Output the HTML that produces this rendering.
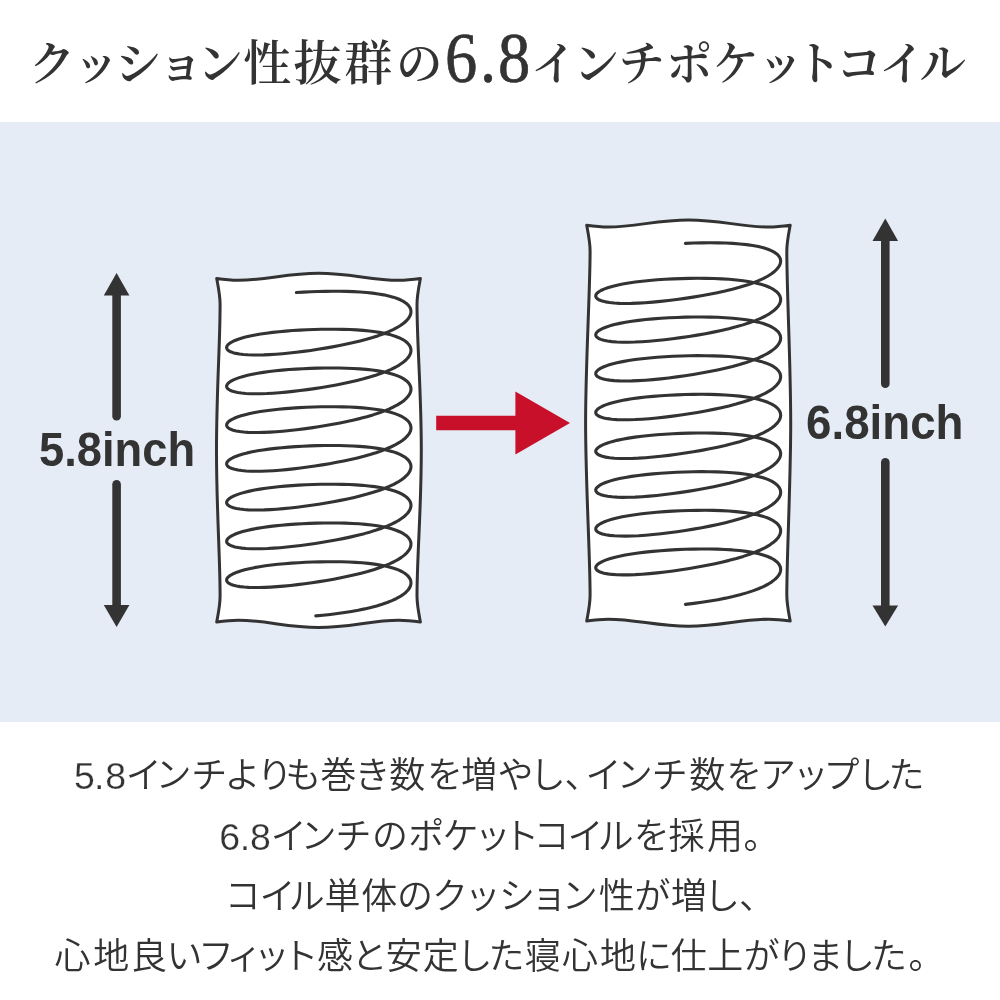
<!DOCTYPE html>
<html lang="ja">
<head>
<meta charset="utf-8">
<title>クッション性抜群の6.8インチポケットコイル</title>
<style>
html,body{margin:0;padding:0;background:#fff;}
body{width:1000px;height:1000px;overflow:hidden;position:relative;color:#333;}
.page{will-change:transform;position:absolute;left:0;top:0;width:1000px;height:1000px;overflow:hidden;background:#fff;}
.band{position:absolute;left:0;top:122px;width:1000px;height:600px;background:#e5ecf6;}
.art{position:absolute;left:0;top:0;display:block;}
h1{position:absolute;left:0;top:0;width:1000px;height:122px;margin:0;font-family:"Liberation Serif","Noto Serif CJK JP","Noto Serif CJK SC",serif;font-weight:600;font-size:46.5px;line-height:122px;white-space:nowrap;color:#333;}
h1 span{position:relative;top:-5.50px;}
h1 .j{font-size:48px;top:-5.50px;}
h1 .n{display:inline-block;font-size:71.5px;font-weight:400;-webkit-text-stroke:0.7px #333;top:-3.50px;transform:scaleX(0.9);transform-origin:0 50%;}
.lbl{position:absolute;margin:0;font-family:"Liberation Sans",sans-serif;font-weight:700;font-size:49px;line-height:49px;height:49px;white-space:nowrap;color:#333;transform-origin:0 50%;transform:scaleX(0.925);}
.desc{position:absolute;left:0;top:722px;width:1000px;height:278px;margin:0;font-family:"Liberation Sans","Noto Sans CJK JP",sans-serif;font-weight:350;font-size:36px;color:#333;font-feature-settings:"palt";}
.desc p{margin:0;position:absolute;left:0;width:1000px;height:40px;line-height:40px;white-space:nowrap;}
.desc span{position:relative;top:0.00px;}
.desc .d{font-size:37.5px;font-weight:400;font-feature-settings:normal;top:-0.40px;-webkit-text-stroke:0.25px #fff;}
</style>
</head>
<body>
<div class="page">
<h1 style="left:25px;letter-spacing:-0.93px" aria-label="クッション性抜群の6.8インチポケットコイル"><span style="left:4.1px">ク</span><span style="left:2.3px">ッ</span><span style="left:-1.4px">シ</span><span style="left:-3.6px">ョ</span><span style="left:-9.6px">ン</span><span class="j" style="left:-8.8px">性</span><span class="j" style="left:-5.6px">抜</span><span class="j" style="left:-1.9px">群</span><span style="left:2.7px">の</span><span class="n" style="left:6.1px">6</span><span class="n" style="left:6.0px">.</span><span class="n" style="left:7.0px">8</span><span style="left:5.4px">イ</span><span style="left:2.0px">ン</span><span style="left:2.0px">チ</span><span style="left:3.9px">ポ</span><span style="left:4.9px">ケ</span><span style="left:6.2px">ッ</span><span style="left:-1.6px">ト</span><span style="left:-4.3px">コ</span><span style="left:-5.4px">イ</span><span style="left:-10.6px">ル</span></h1>
<div class="band">
<svg class="art" width="1000" height="600" viewBox="0 122 1000 600">
<path d="M216.70 278.50C224.22 279.58 231.75 280.30 238.20 280.30C266.20 280.30 286.55 273.20 318.55 273.20C350.55 273.20 370.90 280.30 398.90 280.30C405.35 280.30 412.88 279.58 420.40 278.50C418.70 287.60 417.00 295.40 417.00 304.50C417.00 344.50 421.30 390.30 421.30 450.30C421.30 510.30 417.00 556.10 417.00 596.10C417.00 605.20 418.70 613.00 420.40 622.10C412.88 621.02 405.35 620.30 398.90 620.30C370.90 620.30 350.55 627.40 318.55 627.40C286.55 627.40 266.20 620.30 238.20 620.30C231.75 620.30 224.22 621.02 216.70 622.10C218.40 613.00 220.10 605.20 220.10 596.10C220.10 556.10 216.50 510.30 216.50 450.30C216.50 390.30 220.10 344.50 220.10 304.50C220.10 295.40 218.40 287.60 216.70 278.50Z" fill="#fff" stroke="#333" stroke-width="3.0" stroke-linejoin="round"/>
<path d="M296.33 292.57 L303.46 292.13 L310.68 291.77 L317.95 291.50 L325.23 291.33 L332.47 291.25 L339.62 291.27 L346.65 291.40 L353.50 291.64 L360.13 292.01 L366.51 292.51 L372.59 293.14 L378.33 293.92 L383.70 294.85 L388.67 295.92 L393.20 297.14 L397.26 298.52 L400.84 300.03 L403.90 301.69 L406.44 303.47 L408.42 305.36 L409.85 307.36 L410.71 309.45 L411.00 311.60 L410.71 313.85 L409.85 316.14 L408.42 318.44 L406.43 320.74 L403.90 323.02 L400.83 325.27 L397.25 327.47 L393.18 329.62 L388.65 331.70 L383.68 333.71 L378.31 335.65 L372.57 337.50 L366.49 339.27 L360.11 340.96 L353.48 342.57 L346.63 344.09 L339.60 345.53 L332.45 346.88 L325.21 348.15 L317.93 349.32 L310.66 350.41 L303.43 351.40 L296.31 352.28 L289.32 353.05 L282.52 353.71 L275.94 354.24 L269.63 354.65 L263.63 354.91 L257.97 355.03 L252.69 355.00 L247.83 354.82 L243.40 354.49 L239.45 354.02 L235.99 353.40 L233.05 352.65 L230.64 351.77 L228.79 350.78 L227.49 349.69 L226.77 348.51 L226.62 347.28 L227.04 345.99 L228.04 344.68 L229.60 343.35 L231.72 342.03 L234.38 340.73 L237.57 339.46 L241.26 338.25 L245.44 337.09 L250.08 336.00 L255.15 334.98 L260.61 334.04 L266.44 333.18 L272.59 332.40 L279.03 331.70 L285.72 331.09 L292.61 330.56 L299.67 330.12 L306.85 329.76 L314.10 329.49 L321.38 329.31 L328.65 329.22 L335.85 329.23 L342.95 329.35 L349.90 329.57 L356.65 329.92 L363.17 330.39 L369.41 331.00 L375.34 331.74 L380.91 332.63 L386.09 333.67 L390.86 334.86 L395.17 336.19 L399.01 337.68 L402.35 339.30 L405.16 341.06 L407.44 342.94 L409.17 344.93 L410.33 347.02 L410.92 349.18 L410.94 351.41 L410.38 353.68 L409.25 355.97 L407.55 358.27 L405.30 360.56 L402.52 362.83 L399.21 365.06 L395.39 367.24 L391.10 369.36 L386.36 371.41 L381.20 373.38 L375.65 375.28 L369.74 377.09 L363.52 378.83 L357.02 380.48 L350.27 382.04 L343.34 383.53 L336.25 384.92 L329.05 386.24 L321.78 387.46 L314.50 388.60 L307.24 389.64 L300.06 390.58 L293.00 391.41 L286.09 392.13 L279.39 392.73 L272.93 393.20 L266.76 393.54 L260.92 393.73 L255.44 393.78 L250.35 393.69 L245.69 393.44 L241.48 393.04 L237.76 392.49 L234.54 391.81 L231.85 391.00 L229.70 390.06 L228.11 389.02 L227.08 387.89 L226.62 386.69 L226.74 385.43 L227.44 384.12 L228.70 382.80 L230.53 381.48 L232.91 380.16 L235.82 378.88 L239.25 377.63 L243.18 376.44 L247.57 375.32 L252.42 374.26 L257.67 373.27 L263.31 372.37 L269.30 371.55 L275.59 370.81 L282.15 370.15 L288.94 369.58 L295.92 369.09 L303.04 368.69 L310.26 368.37 L317.53 368.14 L324.81 368.01 L332.06 367.96 L339.22 368.02 L346.25 368.19 L353.11 368.47 L359.76 368.88 L366.15 369.41 L372.24 370.08 L378.01 370.89 L383.40 371.85 L388.39 372.96 L392.95 374.22 L397.04 375.63 L400.65 377.18 L403.74 378.87 L406.31 380.68 L408.33 382.62 L409.79 384.66 L410.68 386.78 L411.00 388.98 L410.74 391.22 L409.91 393.51 L408.52 395.80 L406.56 398.10 L404.06 400.39 L401.02 402.64 L397.47 404.84 L393.43 406.99 L388.92 409.08 L383.98 411.10 L378.63 413.04 L372.91 414.89 L366.85 416.67 L360.49 418.37 L353.87 419.98 L347.03 421.50 L340.01 422.95 L332.86 424.30 L325.63 425.58 L318.35 426.76 L311.08 427.85 L303.85 428.84 L296.71 429.73 L289.72 430.51 L282.90 431.18 L276.31 431.72 L269.99 432.13 L263.97 432.40 L258.29 432.53 L252.99 432.51 L248.10 432.34 L243.65 432.02 L239.67 431.55 L236.18 430.94 L233.21 430.19 L230.77 429.32 L228.88 428.34 L227.55 427.25 L226.79 426.08 L226.61 424.85 L227.00 423.57 L227.96 422.25 L229.49 420.93 L231.58 419.60 L234.21 418.30 L237.37 417.04 L241.04 415.82 L245.19 414.65 L249.80 413.56 L254.84 412.53 L260.29 411.59 L266.09 410.72 L272.23 409.94 L278.65 409.24 L285.33 408.62 L292.21 408.09 L299.26 407.64 L306.43 407.28 L313.68 407.00 L320.97 406.82 L328.23 406.72 L335.44 406.73 L342.55 406.84 L349.50 407.06 L356.27 407.40 L362.80 407.86 L369.06 408.46 L375.00 409.19 L380.60 410.08 L385.80 411.10 L390.59 412.28 L394.94 413.61 L398.80 415.09 L402.17 416.71 L405.02 418.46 L407.33 420.33 L409.08 422.32 L410.28 424.40 L410.90 426.56 L410.95 428.78 L410.42 431.05 L409.33 433.34 L407.66 435.64 L405.45 437.93 L402.69 440.20 L399.41 442.43 L395.63 444.61 L391.36 446.74 L386.65 448.79 L381.51 450.77 L375.98 452.67 L370.09 454.49 L363.89 456.23 L357.40 457.88 L350.67 459.46 L343.74 460.94 L336.66 462.35 L329.46 463.66 L322.20 464.89 L314.92 466.03 L307.66 467.08 L300.47 468.02 L293.40 468.86 L286.48 469.59 L279.77 470.20 L273.30 470.68 L267.11 471.02 L261.25 471.23 L255.74 471.29 L250.63 471.20 L245.94 470.95 L241.71 470.57 L237.96 470.03 L234.71 469.35 L231.99 468.55 L229.81 467.62 L228.18 466.59 L227.12 465.46 L226.64 464.26 L226.72 463.00 L227.38 461.70 L228.61 460.38 L230.41 459.05 L232.75 457.74 L235.64 456.45 L239.04 455.20 L242.94 454.01 L247.31 452.88 L252.13 451.82 L257.36 450.83 L262.98 449.92 L268.94 449.09 L275.22 448.35 L281.77 447.69 L288.55 447.11 L295.52 446.62 L302.63 446.21 L309.84 445.89 L317.11 445.65 L324.39 445.51 L331.64 445.46 L338.81 445.52 L345.85 445.68 L352.72 445.95 L359.38 446.35 L365.79 446.87 L371.90 447.54 L377.68 448.34 L383.10 449.29 L388.11 450.39 L392.70 451.64 L396.82 453.04 L400.45 454.58 L403.58 456.27 L406.17 458.08 L408.22 460.00 L409.72 462.04 L410.64 464.16 L411.00 466.35 L410.77 468.59 L409.98 470.87 L408.61 473.17 L406.69 475.47 L404.21 477.76 L401.21 480.01 L397.69 482.22 L393.68 484.37 L389.20 486.46 L384.28 488.48 L378.95 490.43 L373.25 492.29 L367.20 494.07 L360.86 495.77 L354.25 497.39 L347.43 498.92 L340.42 500.36 L333.28 501.73 L326.05 503.00 L318.77 504.19 L311.49 505.29 L304.26 506.29 L297.12 507.18 L290.12 507.97 L283.29 508.64 L276.69 509.19 L270.34 509.61 L264.30 509.89 L258.61 510.02 L253.28 510.01 L248.37 509.85 L243.89 509.54 L239.88 509.08 L236.36 508.48 L233.36 507.74 L230.89 506.88 L228.97 505.90 L227.61 504.82 L226.82 503.65 L226.60 502.42 L226.96 501.14 L227.89 499.83 L229.39 498.50 L231.45 497.18 L234.05 495.88 L237.18 494.61 L240.81 493.38 L244.94 492.22 L249.52 491.12 L254.54 490.09 L259.96 489.14 L265.75 488.27 L271.86 487.48 L278.27 486.78 L284.94 486.16 L291.81 485.62 L298.85 485.17 L306.02 484.80 L313.27 484.52 L320.55 484.32 L327.82 484.23 L335.03 484.22 L342.14 484.33 L349.11 484.54 L355.89 484.87 L362.43 485.33 L368.71 485.92 L374.67 486.65 L380.28 487.52 L385.51 488.54 L390.33 489.71 L394.70 491.03 L398.59 492.50 L401.99 494.11 L404.87 495.85 L407.21 497.72 L409.00 499.70 L410.22 501.77 L410.88 503.93 L410.96 506.15 L410.47 508.41 L409.41 510.71 L407.78 513.01 L405.59 515.30 L402.86 517.57 L399.61 519.81 L395.86 521.99 L391.62 524.12 L386.93 526.17 L381.82 528.16 L376.31 530.06 L370.44 531.89 L364.25 533.63 L357.78 535.29 L351.06 536.87 L344.14 538.36 L337.07 539.77 L329.88 541.09 L322.62 542.33 L315.34 543.47 L308.08 544.52 L300.88 545.47 L293.80 546.32 L286.88 547.05 L280.15 547.67 L273.66 548.15 L267.46 548.51 L261.57 548.72 L256.05 548.79 L250.91 548.70 L246.20 548.47 L241.94 548.09 L238.16 547.56 L234.89 546.90 L232.13 546.10 L229.92 545.18 L228.26 544.15 L227.17 543.03 L226.65 541.83 L226.70 540.57 L227.33 539.28 L228.53 537.95 L230.29 536.63 L232.60 535.31 L235.46 534.02 L238.83 532.77 L242.70 531.58 L247.04 530.44 L251.84 529.38 L257.05 528.38 L262.64 527.47 L268.59 526.64 L274.85 525.89 L281.38 525.23 L288.15 524.64 L295.11 524.15 L302.22 523.73 L309.43 523.40 L316.69 523.17 L323.98 523.02 L331.22 522.96 L338.40 523.01 L345.45 523.16 L352.33 523.43 L359.00 523.82 L365.43 524.34 L371.56 525.00 L377.36 525.79 L382.80 526.73 L387.84 527.82 L392.45 529.07 L396.59 530.46 L400.26 531.99 L403.41 533.67 L406.04 535.47 L408.12 537.39 L409.65 539.42 L410.61 541.53 L410.99 543.72 L410.80 545.96 L410.04 548.24 L408.71 550.54 L406.81 552.84 L404.37 555.12 L401.40 557.38 L397.90 559.59 L393.92 561.75 L389.47 563.84 L384.57 565.87 L379.27 567.82 L373.59 569.68 L367.56 571.47 L361.23 573.17 L354.64 574.79 L347.82 576.33 L340.83 577.78 L333.69 579.15 L326.47 580.43 L319.19 581.63 L311.91 582.73 L304.68 583.73 L297.53 584.63 L290.52 585.43 L283.68 586.11 L277.06 586.66 L270.70 587.09 L264.64 587.37 L258.92 587.52 L253.58 587.52 L248.64 587.36 L244.14 587.06 L240.10 586.61 L236.55 586.02 L233.52 585.29 L231.02 584.43 L229.07 583.46 L227.68 582.38 L226.85 581.22 L226.60 579.99 L226.93 578.72 L227.82 577.40 L229.29 576.08 L231.31 574.76 L233.88 573.45 L236.98 572.18 L240.59 570.95 L244.69 569.78 L249.25 568.68 L254.24 567.65 L259.64 566.69 L265.40 565.82 L271.50 565.03 L277.90 564.32 L284.55 563.69 L291.41 563.15 L298.44 562.69 L305.60 562.32 L312.85 562.03 L320.13 561.83 L327.40 561.73 L334.62 561.72 L341.74 561.82 L348.71 562.03 L355.50 562.35 L362.06 562.80 L368.35 563.38 L374.34 564.10 L379.97 564.97 L385.22 565.98 L390.06 567.14 L394.46 568.45 L398.38 569.91 L401.81 571.51 L404.72 573.25 L407.09 575.11 L408.91 577.08 L410.17 579.15 L410.86 581.30 L410.97 583.52 L410.51 585.76 L409.48 588.01 L407.88 590.24 L405.73 592.44 L403.03 594.60 L399.81 596.70 L396.09 598.72 L391.88 600.66 L387.21 602.51 L382.12 604.26 L376.63 605.91 L370.79 607.45 L364.62 608.89 L358.16 610.22 L351.45 611.44 L344.55 612.55 L337.48 613.56 L330.30 614.45 L323.04 615.24 L315.76 615.91" fill="none" stroke="#333" stroke-width="3.1" stroke-linecap="round" stroke-linejoin="round"/>
<path d="M586.70 225.20C594.23 226.28 601.75 227.00 608.20 227.00C636.20 227.00 656.45 219.90 688.45 219.90C720.45 219.90 740.70 227.00 768.70 227.00C775.15 227.00 782.68 226.28 790.20 225.20C788.50 234.30 786.80 242.10 786.80 251.20C786.80 291.20 790.70 363.10 790.70 423.10C790.70 483.10 786.80 555.00 786.80 595.00C786.80 604.10 788.50 611.90 790.20 621.00C782.68 619.92 775.15 619.20 768.70 619.20C740.70 619.20 720.45 626.30 688.45 626.30C656.45 626.30 636.20 619.20 608.20 619.20C601.75 619.20 594.23 619.92 586.70 621.00C588.40 611.90 590.10 604.10 590.10 595.00C590.10 555.00 585.60 483.10 585.60 423.10C585.60 363.10 590.10 291.20 590.10 251.20C590.10 242.10 588.40 234.30 586.70 225.20Z" fill="#fff" stroke="#333" stroke-width="3.0" stroke-linejoin="round"/>
<path d="M685.43 243.38 L693.66 243.06 L701.86 242.85 L709.95 242.78 L717.86 242.83 L725.54 243.04 L732.93 243.40 L739.95 243.93 L746.57 244.63 L752.73 245.51 L758.37 246.58 L763.45 247.84 L767.94 249.27 L771.80 250.89 L774.99 252.67 L777.49 254.60 L779.29 256.66 L780.36 258.83 L780.70 261.09 L780.31 263.61 L779.18 266.16 L777.34 268.72 L774.78 271.27 L771.54 273.79 L767.64 276.25 L763.11 278.64 L757.98 280.95 L752.30 283.16 L746.11 285.27 L739.46 287.28 L732.40 289.19 L725.00 290.99 L717.30 292.68 L709.37 294.27 L701.27 295.74 L693.07 297.11 L684.83 298.37 L676.62 299.51 L668.50 300.52 L660.53 301.40 L652.79 302.14 L645.32 302.72 L638.20 303.14 L631.47 303.39 L625.19 303.45 L619.42 303.33 L614.19 303.02 L609.54 302.53 L605.52 301.86 L602.16 301.02 L599.48 300.03 L597.50 298.90 L596.24 297.65 L595.72 296.31 L595.92 294.91 L596.86 293.46 L598.53 291.99 L600.90 290.53 L603.97 289.10 L607.71 287.72 L612.08 286.40 L617.06 285.17 L622.61 284.02 L628.67 282.98 L635.21 282.03 L642.16 281.19 L649.49 280.46 L657.12 279.83 L664.99 279.31 L673.05 278.89 L681.24 278.59 L689.47 278.39 L697.70 278.31 L705.85 278.36 L713.86 278.54 L721.67 278.85 L729.21 279.32 L736.42 279.95 L743.26 280.76 L749.65 281.74 L755.56 282.90 L760.94 284.25 L765.73 285.79 L769.92 287.51 L773.45 289.41 L776.31 291.46 L778.46 293.65 L779.90 295.97 L780.62 298.38 L780.60 300.87 L779.84 303.41 L778.36 305.97 L776.17 308.54 L773.27 311.08 L769.71 313.57 L765.49 316.00 L760.66 318.36 L755.26 320.63 L749.32 322.81 L742.90 324.88 L736.04 326.85 L728.81 328.71 L721.25 330.47 L713.43 332.12 L705.41 333.67 L697.25 335.10 L689.03 336.43 L680.79 337.64 L672.61 338.73 L664.56 339.69 L656.70 340.52 L649.08 341.19 L641.78 341.70 L634.84 342.05 L628.33 342.21 L622.29 342.20 L616.78 342.00 L611.83 341.60 L607.49 341.03 L603.79 340.28 L600.76 339.37 L598.42 338.31 L596.79 337.12 L595.89 335.83 L595.73 334.45 L596.29 333.02 L597.59 331.56 L599.61 330.09 L602.32 328.63 L605.72 327.22 L609.78 325.86 L614.45 324.58 L619.72 323.38 L625.52 322.27 L631.82 321.27 L638.57 320.36 L645.72 319.57 L653.20 318.87 L660.96 318.29 L668.93 317.81 L677.06 317.43 L685.28 317.17 L693.52 317.02 L701.71 316.99 L709.80 317.08 L717.72 317.32 L725.41 317.70 L732.80 318.23 L739.83 318.94 L746.46 319.82 L752.62 320.88 L758.27 322.13 L763.37 323.56 L767.87 325.18 L771.73 326.98 L774.94 328.95 L777.45 331.07 L779.26 333.32 L780.35 335.69 L780.70 338.14 L780.32 340.66 L779.21 343.22 L777.37 345.79 L774.83 348.35 L771.61 350.87 L767.71 353.34 L763.19 355.75 L758.08 358.07 L752.41 360.30 L746.22 362.44 L739.58 364.47 L732.53 366.40 L725.13 368.22 L717.44 369.94 L709.51 371.55 L701.42 373.05 L693.22 374.45 L684.98 375.73 L676.77 376.90 L668.64 377.94 L660.67 378.84 L652.92 379.60 L645.45 380.21 L638.32 380.65 L631.59 380.92 L625.30 381.01 L619.52 380.91 L614.28 380.62 L609.62 380.15 L605.59 379.49 L602.21 378.67 L599.52 377.68 L597.53 376.56 L596.26 375.32 L595.72 373.98 L595.91 372.58 L596.84 371.12 L598.49 369.65 L600.85 368.18 L603.91 366.74 L607.63 365.35 L612.00 364.02 L616.97 362.77 L622.50 361.61 L628.56 360.54 L635.09 359.58 L642.04 358.71 L649.35 357.96 L656.98 357.30 L664.85 356.76 L672.91 356.32 L681.09 355.98 L689.32 355.76 L697.55 355.66 L705.70 355.68 L713.72 355.83 L721.53 356.12 L729.07 356.56 L736.30 357.17 L743.14 357.95 L749.54 358.91 L755.46 360.05 L760.84 361.39 L765.65 362.91 L769.85 364.61 L773.39 366.49 L776.26 368.53 L778.43 370.72 L779.88 373.02 L780.61 375.44 L780.60 377.93 L779.86 380.47 L778.40 383.03 L776.21 385.60 L773.33 388.15 L769.78 390.66 L765.57 393.11 L760.75 395.48 L755.36 397.77 L749.43 399.96 L743.02 402.05 L736.17 404.04 L728.94 405.93 L721.39 407.71 L713.57 409.39 L705.56 410.96 L697.40 412.42 L689.17 413.78 L680.94 415.02 L672.76 416.13 L664.71 417.12 L656.84 417.97 L649.22 418.67 L641.91 419.20 L634.96 419.57 L628.44 419.76 L622.40 419.77 L616.87 419.58 L611.91 419.21 L607.56 418.65 L603.85 417.92 L600.80 417.02 L598.45 415.97 L596.82 414.78 L595.90 413.49 L595.72 412.12 L596.28 410.69 L597.56 409.22 L599.56 407.75 L602.27 406.28 L605.66 404.86 L609.70 403.49 L614.36 402.19 L619.62 400.98 L625.41 399.85 L631.71 398.82 L638.45 397.90 L645.59 397.08 L653.06 396.36 L660.82 395.75 L668.79 395.24 L676.91 394.84 L685.13 394.55 L693.37 394.38 L701.57 394.32 L709.66 394.39 L717.58 394.60 L725.27 394.95 L732.66 395.46 L739.71 396.14 L746.34 397.00 L752.51 398.04 L758.17 399.27 L763.28 400.69 L767.79 402.29 L771.67 404.08 L774.89 406.03 L777.41 408.14 L779.23 410.39 L780.33 412.75 L780.70 415.20 L780.33 417.72 L779.23 420.28 L777.41 422.85 L774.89 425.42 L771.67 427.95 L767.79 430.44 L763.28 432.86 L758.17 435.20 L752.51 437.45 L746.34 439.60 L739.71 441.65 L732.66 443.60 L725.27 445.45 L717.58 447.19 L709.66 448.83 L701.57 450.36 L693.37 451.78 L685.13 453.09 L676.91 454.28 L668.79 455.35 L660.82 456.28 L653.06 457.07 L645.59 457.70 L638.45 458.17 L631.71 458.46 L625.41 458.57 L619.62 458.49 L614.36 458.22 L609.70 457.76 L605.66 457.12 L602.27 456.31 L599.56 455.33 L597.56 454.22 L596.28 452.98 L595.72 451.65 L595.90 450.24 L596.82 448.79 L598.45 447.31 L600.80 445.84 L603.85 444.39 L607.56 442.98 L611.91 441.64 L616.87 440.37 L622.40 439.19 L628.44 438.11 L634.96 437.12 L641.91 436.24 L649.22 435.46 L656.84 434.78 L664.71 434.21 L672.76 433.74 L680.94 433.38 L689.17 433.14 L697.40 433.00 L705.56 433.00 L713.57 433.12 L721.39 433.39 L728.94 433.81 L736.17 434.39 L743.02 435.15 L749.43 436.08 L755.36 437.21 L760.75 438.52 L765.57 440.02 L769.78 441.71 L773.33 443.58 L776.21 445.61 L778.40 447.78 L779.86 450.08 L780.60 452.49 L780.61 454.98 L779.88 457.52 L778.43 460.09 L776.26 462.67 L773.39 465.23 L769.85 467.75 L765.65 470.21 L760.84 472.59 L755.46 474.90 L749.54 477.11 L743.14 479.23 L736.30 481.24 L729.07 483.15 L721.53 484.95 L713.72 486.66 L705.70 488.25 L697.55 489.74 L689.32 491.12 L681.09 492.39 L672.91 493.53 L664.85 494.54 L656.98 495.42 L649.35 496.14 L642.04 496.70 L635.09 497.09 L628.56 497.31 L622.50 497.33 L616.97 497.17 L612.00 496.81 L607.63 496.27 L603.91 495.55 L600.85 494.66 L598.49 493.62 L596.84 492.45 L595.91 491.16 L595.72 489.79 L596.26 488.36 L597.53 486.89 L599.52 485.40 L602.21 483.94 L605.59 482.50 L609.62 481.12 L614.28 479.80 L619.52 478.57 L625.30 477.43 L631.59 476.38 L638.32 475.43 L645.45 474.59 L652.92 473.85 L660.67 473.21 L668.64 472.68 L676.77 472.25 L684.98 471.94 L693.22 471.73 L701.42 471.65 L709.51 471.70 L717.44 471.88 L725.13 472.21 L732.53 472.69 L739.58 473.35 L746.22 474.18 L752.41 475.20 L758.08 476.41 L763.19 477.81 L767.71 479.40 L771.61 481.17 L774.83 483.11 L777.37 485.21 L779.21 487.45 L780.32 489.81 L780.70 492.26 L780.35 494.77 L779.26 497.33 L777.45 499.91 L774.94 502.49 L771.73 505.03 L767.87 507.53 L763.37 509.96 L758.27 512.32 L752.62 514.59 L746.46 516.76 L739.83 518.84 L732.80 520.81 L725.41 522.68 L717.72 524.45 L709.80 526.11 L701.71 527.66 L693.52 529.11 L685.28 530.45 L677.06 531.67 L668.93 532.76 L660.96 533.72 L653.20 534.53 L645.72 535.19 L638.57 535.68 L631.82 535.99 L625.52 536.12 L619.72 536.06 L614.45 535.81 L609.78 535.37 L605.72 534.75 L602.32 533.95 L599.61 532.99 L597.59 531.88 L596.29 530.65 L595.73 529.32 L595.89 527.91 L596.79 526.46 L598.42 524.98 L600.76 523.49 L603.79 522.04 L607.49 520.62 L611.83 519.26 L616.78 517.98 L622.29 516.78 L628.33 515.67 L634.84 514.67 L641.78 513.76 L649.08 512.96 L656.70 512.26 L664.56 511.66 L672.61 511.17 L680.79 510.78 L689.03 510.51 L697.25 510.35 L705.41 510.32 L713.43 510.42 L721.25 510.66 L728.81 511.05 L736.04 511.61 L742.90 512.34 L749.32 513.26 L755.26 514.36 L760.66 515.65 L765.49 517.14 L769.71 518.81 L773.27 520.66 L776.17 522.68 L778.36 524.85 L779.84 527.14 L780.60 529.55 L780.62 532.03 L779.90 534.58 L778.46 537.15 L776.31 539.74 L773.45 542.30 L769.92 544.83 L765.73 547.31 L760.94 549.71 L755.56 552.03 L749.65 554.26 L743.26 556.40 L736.42 558.43 L729.21 560.37 L721.67 562.20 L713.86 563.92 L705.85 565.55 L697.70 567.06 L689.47 568.47 L681.24 569.76 L673.05 570.93 L664.99 571.97 L657.12 572.87 L649.49 573.61 L642.16 574.20 L635.21 574.62 L628.67 574.85 L622.61 574.90 L617.06 574.75 L612.08 574.42 L607.71 573.89 L603.97 573.19 L600.90 572.31 L598.53 571.28 L596.86 570.11 L595.92 568.83 L595.72 567.46 L596.24 566.02 L597.50 564.55 L599.48 563.06 L602.16 561.59 L605.52 560.14 L609.54 558.75 L614.19 557.42 L619.42 556.17 L625.19 555.00 L631.47 553.94 L638.20 552.97 L645.32 552.10 L652.79 551.34 L660.53 550.68 L668.50 550.12 L676.62 549.67 L684.83 549.32 L693.07 549.09 L701.27 548.99 L709.37 549.00 L717.30 549.16 L725.00 549.46 L732.40 549.92 L739.46 550.56 L746.11 551.37 L752.30 552.37 L757.98 553.55 L763.11 554.94 L767.64 556.51 L771.54 558.26 L774.78 560.19 L777.34 562.28 L779.18 564.51 L780.31 566.86 L780.70 569.31 L780.36 571.82 L779.29 574.35 L777.49 576.88 L774.99 579.39 L771.80 581.85 L767.94 584.25 L763.45 586.56 L758.37 588.78 L752.73 590.88 L746.57 592.88 L739.95 594.75 L732.93 596.51 L725.54 598.14 L717.86 599.65 L709.95 601.03 L701.86 602.28 L693.66 603.41 L685.43 604.41" fill="none" stroke="#333" stroke-width="3.1" stroke-linecap="round" stroke-linejoin="round"/>
<path d="M116.60 273.00 L103.80 295.40 L129.40 295.40 Z" fill="#333"/><line x1="116.60" y1="295.40" x2="116.60" y2="416.30" stroke="#333" stroke-width="8.60" stroke-linecap="round"/>
<path d="M116.60 627.00 L103.80 605.00 L129.40 605.00 Z" fill="#333"/><line x1="116.60" y1="605.00" x2="116.60" y2="484.30" stroke="#333" stroke-width="8.60" stroke-linecap="round"/>
<path d="M885.30 218.60 L872.50 241.00 L898.10 241.00 Z" fill="#333"/><line x1="885.30" y1="241.00" x2="885.30" y2="383.70" stroke="#333" stroke-width="8.60" stroke-linecap="round"/>
<path d="M885.30 626.60 L872.50 605.60 L898.10 605.60 Z" fill="#333"/><line x1="885.30" y1="605.60" x2="885.30" y2="462.30" stroke="#333" stroke-width="8.60" stroke-linecap="round"/>
<path d="M436.2 415.8 H515.4 V391.5 L570 423 L515.4 454.5 V430.2 H436.2 Z" fill="#c8102a"/>
</svg>
<p class="lbl" style="left:39.1px;top:303.3px">5.8inch</p>
<p class="lbl" style="left:806.4px;top:276.4px;transform:scaleX(0.933)">6.8inch</p>
</div>
<div class="desc">
<p style="top:32.90px;left:69px;letter-spacing:1.15px" aria-label="5.8インチよりも巻き数を増やし、インチ数をアップした"><span class="d" style="top:1.0px;left:4.9px">5</span><span class="d" style="top:1.0px;left:3.0px">.</span><span class="d" style="top:1.0px;left:2.6px">8</span><span style="left:2.5px">イ</span><span style="left:0.1px">ン</span><span style="left:1.8px">チ</span><span style="left:1.8px">よ</span><span style="left:2.4px">り</span><span style="left:-2.1px">も</span><span style="left:-2.7px">巻</span><span style="left:-3.9px">き</span><span style="left:-3.4px">数</span><span style="left:-2.4px">を</span><span style="left:-3.1px">増</span><span style="left:-2.7px">や</span><span style="left:-3.8px">し</span><span style="left:-3.0px">、</span><span style="left:-0.1px">イ</span><span style="left:-1.0px">ン</span><span style="left:-0.0px">チ</span><span style="left:2.2px">数</span><span style="left:2.6px">を</span><span style="left:2.6px">ア</span><span style="left:3.5px">ッ</span><span style="left:2.9px">プ</span><span style="left:3.0px">し</span><span style="left:0.8px">た</span></p>
<p style="top:93.50px;left:218px;letter-spacing:0.71px" aria-label="6.8インチのポケットコイルを採用。"><span class="d" style="top:1.0px;left:1.2px">6</span><span class="d" style="top:1.0px;left:0.1px">.</span><span class="d" style="top:1.0px;left:-0.8px">8</span><span style="left:-0.2px">イ</span><span style="left:-2.1px">ン</span><span style="left:-0.6px">チ</span><span style="left:1.5px">の</span><span style="left:1.8px">ポ</span><span style="left:1.2px">ケ</span><span style="left:2.4px">ッ</span><span style="left:3.4px">ト</span><span style="left:1.7px">コ</span><span style="left:0.2px">イ</span><span style="left:-1.6px">ル</span><span style="left:-1.3px">を</span><span style="left:-1.0px">採</span><span style="left:0.8px">用</span><span style="left:0.1px">。</span></p>
<p style="top:154.5px;left:222px;letter-spacing:1.33px" aria-label="コイル単体のクッション性が増し、"><span style="left:4.7px">コ</span><span style="left:3.3px">イ</span><span style="left:-0.2px">ル</span><span style="left:-1.0px">単</span><span style="left:-1.6px">体</span><span style="left:-2.8px">の</span><span style="left:-3.4px">ク</span><span style="left:-1.4px">ッ</span><span style="left:-0.2px">シ</span><span style="left:1.4px">ョ</span><span style="left:1.4px">ン</span><span style="left:3.1px">性</span><span style="left:1.5px">が</span><span style="left:1.2px">増</span><span style="left:-0.1px">し</span><span style="left:0.5px">、</span></p>
<p style="top:215.0px;left:56px;letter-spacing:0.60px" aria-label="心地良いフィット感と安定した寝心地に仕上がりました。"><span style="left:-1.5px">心</span><span style="left:0.6px">地</span><span style="left:1.7px">良</span><span style="left:1.2px">い</span><span style="left:0.3px">フ</span><span style="left:-1.6px">ィ</span><span style="left:-1.0px">ッ</span><span style="left:0.1px">ト</span><span style="left:0.9px">感</span><span style="left:-0.1px">と</span><span style="left:0.9px">安</span><span style="left:1.1px">定</span><span style="left:1.2px">し</span><span style="left:0.2px">た</span><span style="left:0.5px">寝</span><span style="left:1.2px">心</span><span style="left:2.7px">地</span><span style="left:2.4px">に</span><span style="left:1.5px">仕</span><span style="left:1.5px">上</span><span style="left:1.5px">が</span><span style="left:0.6px">り</span><span style="left:-0.6px">ま</span><span style="left:-0.8px">し</span><span style="left:-1.8px">た</span><span style="left:-0.6px">。</span></p>
</div>
</div>
</body>
</html>
